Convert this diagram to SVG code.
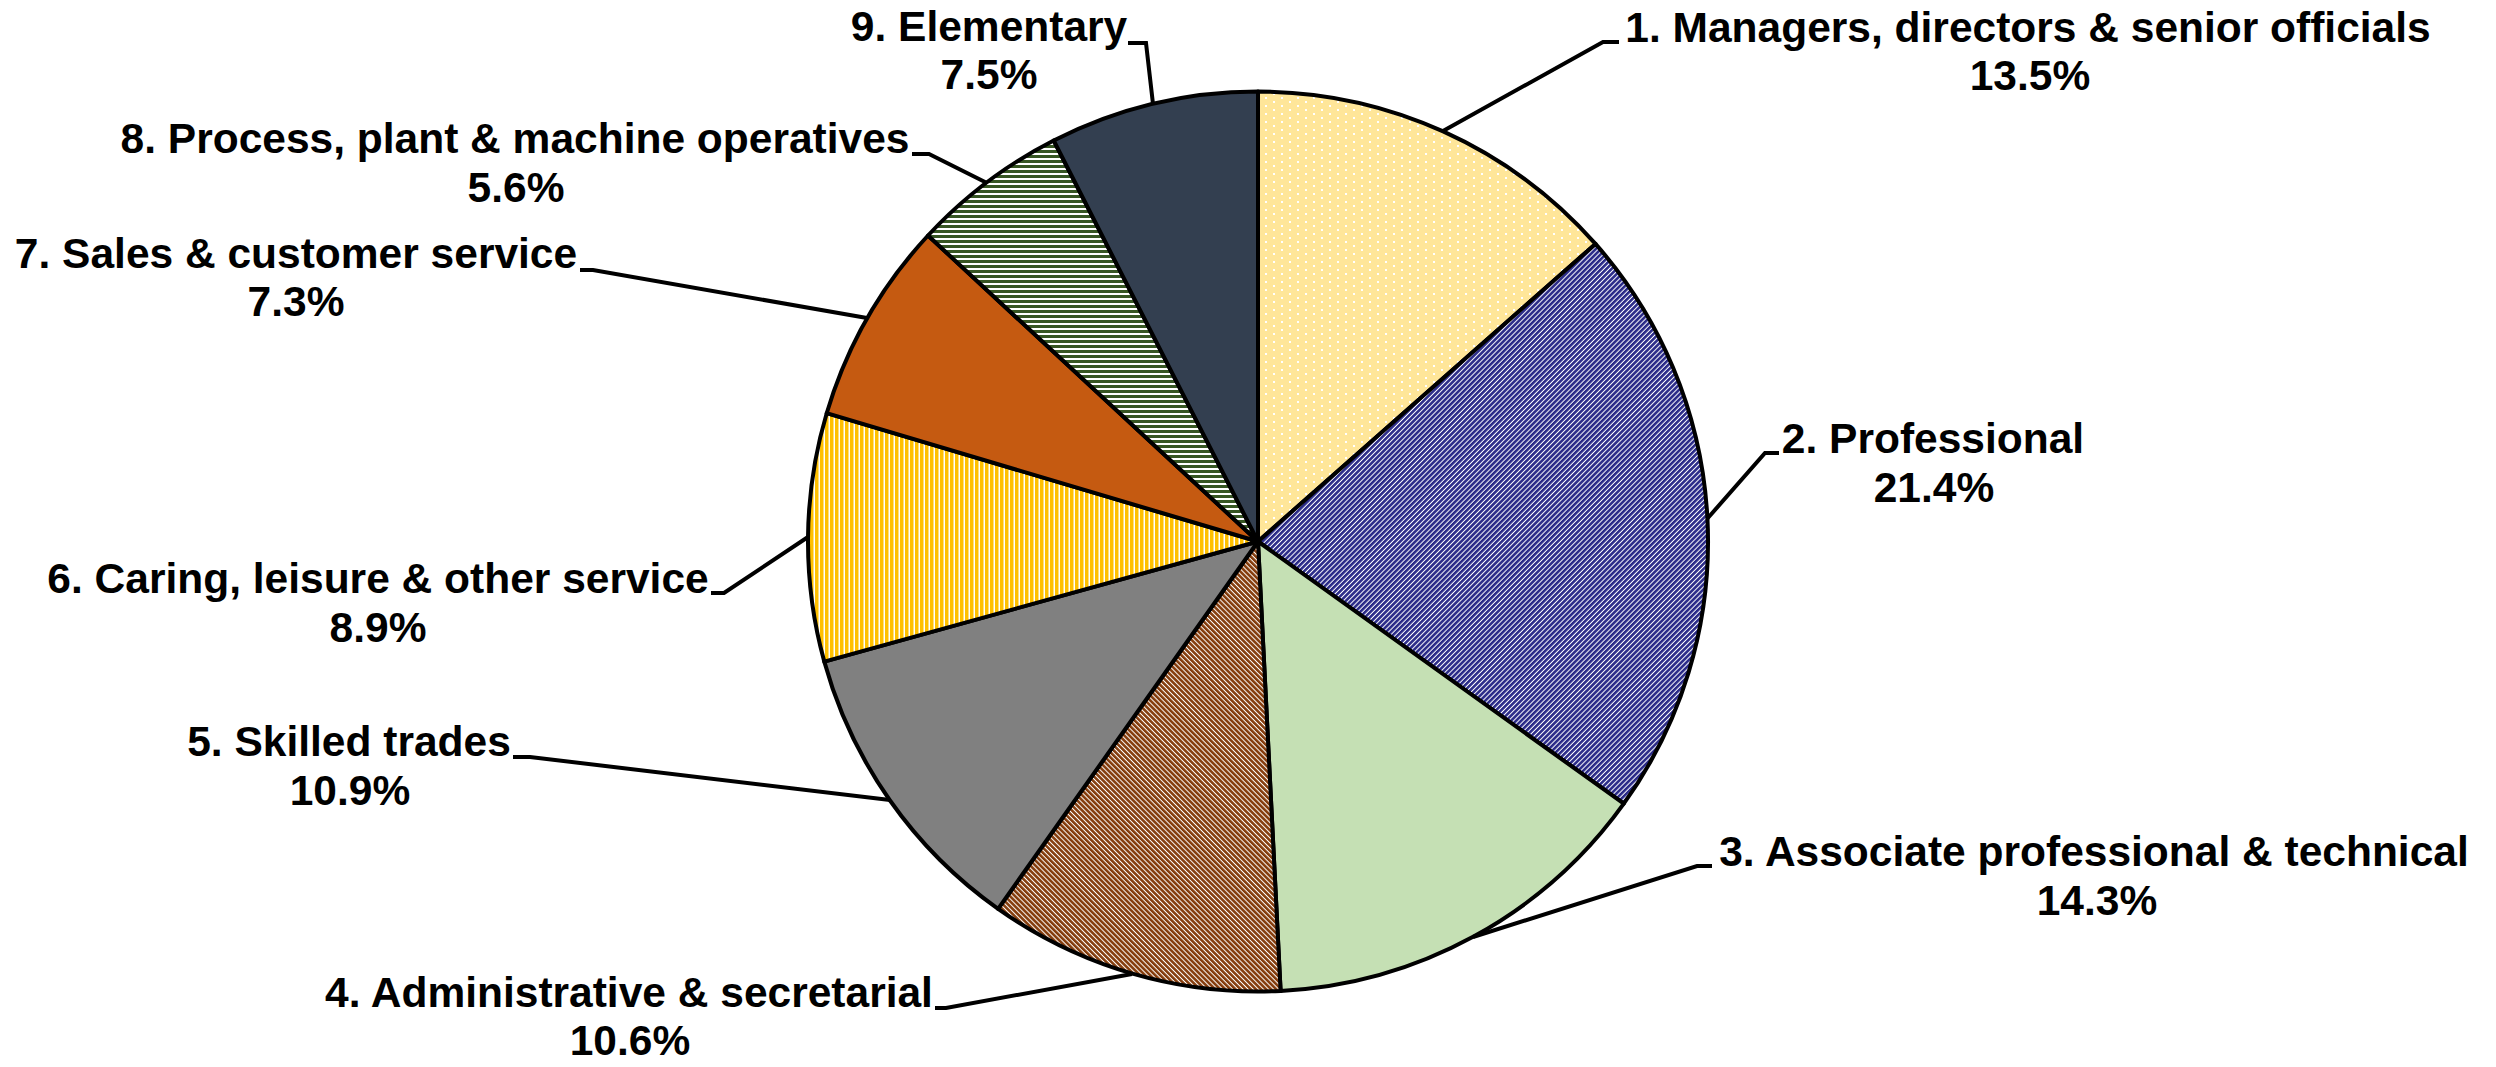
<svg xmlns="http://www.w3.org/2000/svg" width="2496" height="1067" viewBox="0 0 2496 1067">
<style>
.slice{stroke:#000;stroke-width:4;stroke-linejoin:round}
.lbl{font-family:"Liberation Sans",Arial,sans-serif;font-weight:bold;font-size:42.5px;fill:#000;text-anchor:middle}
.lead{fill:none;stroke:#000;stroke-width:4;stroke-linejoin:miter}
</style>
<defs>
<pattern id="pDots" width="16" height="8" patternUnits="userSpaceOnUse">
<rect width="16" height="8" fill="#FFE699"/>
<rect x="1" y="1" width="2" height="2" fill="#fff"/>
<rect x="9" y="5" width="2" height="2" fill="#fff"/>
</pattern>
<pattern id="pNavy" width="3.6" height="4" patternUnits="userSpaceOnUse" patternTransform="rotate(45)">
<rect width="3.6" height="4" fill="#fff"/>
<rect width="2.6" height="4" fill="#2A2A88"/>
</pattern>
<pattern id="pBrown" width="3.6" height="4" patternUnits="userSpaceOnUse" patternTransform="rotate(-45)">
<rect width="3.6" height="4" fill="#fff"/>
<rect width="2.6" height="4" fill="#843C0C"/>
</pattern>
<pattern id="pYellow" width="5" height="4" patternUnits="userSpaceOnUse">
<rect width="5" height="4" fill="#fff"/>
<rect width="3.5" height="4" fill="#FFC000"/>
</pattern>
<pattern id="pGreen" width="4" height="5" patternUnits="userSpaceOnUse">
<rect width="4" height="5" fill="#fff"/>
<rect width="4" height="3" fill="#375623"/>
</pattern>
</defs>
<rect width="2496" height="1067" fill="#fff"/>
<g id="pie">
<g id="slice1"><path class="slice" fill="url(#pDots)" d="M1258 541.5 L1258 91.5 A450 450 0 0 1 1595.5 243.9 Z"/></g>
<g id="slice2"><path class="slice" fill="url(#pNavy)" d="M1258 541.5 L1595.5 243.9 A450 450 0 0 1 1623.8 803.7 Z"/></g>
<g id="slice3"><path class="slice" fill="#C5E0B4" d="M1258 541.5 L1623.8 803.7 A450 450 0 0 1 1280.6 990.9 Z"/></g>
<g id="slice4"><path class="slice" fill="url(#pBrown)" d="M1258 541.5 L1280.6 990.9 A450 450 0 0 1 998.1 908.8 Z"/></g>
<g id="slice5"><path class="slice" fill="#808080" d="M1258 541.5 L998.1 908.8 A450 450 0 0 1 824.3 661.6 Z"/></g>
<g id="slice6"><path class="slice" fill="url(#pYellow)" d="M1258 541.5 L824.3 661.6 A450 450 0 0 1 826.7 413.2 Z"/></g>
<g id="slice7"><path class="slice" fill="#C55A11" d="M1258 541.5 L826.7 413.2 A450 450 0 0 1 928.0 235.5 Z"/></g>
<g id="slice8"><path class="slice" fill="url(#pGreen)" d="M1258 541.5 L928.0 235.5 A450 450 0 0 1 1053.7 140.5 Z"/></g>
<g id="slice9"><path class="slice" fill="#333F50" d="M1258 541.5 L1053.7 140.5 A450 450 0 0 1 1258 91.5 Z"/></g>
</g>
<g id="connectors">
<polyline class="lead" points="1443,131 1603,42 1619,42"/>
<polyline class="lead" points="1707,519 1765,453 1779,453"/>
<polyline class="lead" points="1473,937 1697,866 1712,866"/>
<polyline class="lead" points="1132,974 946,1008 935,1008"/>
<polyline class="lead" points="890,800 530,757 513,757"/>
<polyline class="lead" points="808,537 724,593 711,593"/>
<polyline class="lead" points="867,318 593,270 580,270"/>
<polyline class="lead" points="987,183 929,154 912,154"/>
<polyline class="lead" points="1153,104 1146,43 1128,43"/>
</g>
<g id="label1"><text class="lbl" x="2028" y="42">1. Managers, directors &amp; senior officials</text><text class="lbl" x="2030" y="90">13.5%</text></g>
<g id="label2"><text class="lbl" x="1933" y="453">2. Professional</text><text class="lbl" x="1934" y="502">21.4%</text></g>
<g id="label3"><text class="lbl" x="2094" y="866">3. Associate professional &amp; technical</text><text class="lbl" x="2097" y="915">14.3%</text></g>
<g id="label4"><text class="lbl" x="629" y="1007">4. Administrative &amp; secretarial</text><text class="lbl" x="630" y="1055">10.6%</text></g>
<g id="label5"><text class="lbl" x="349" y="756">5. Skilled trades</text><text class="lbl" x="350" y="805">10.9%</text></g>
<g id="label6"><text class="lbl" x="378" y="593">6. Caring, leisure &amp; other service</text><text class="lbl" x="378" y="642">8.9%</text></g>
<g id="label7"><text class="lbl" x="296" y="268">7. Sales &amp; customer service</text><text class="lbl" x="296" y="316">7.3%</text></g>
<g id="label8"><text class="lbl" x="515" y="153">8. Process, plant &amp; machine operatives</text><text class="lbl" x="516" y="202">5.6%</text></g>
<g id="label9"><text class="lbl" x="989" y="41">9. Elementary</text><text class="lbl" x="989" y="89">7.5%</text></g>
</svg>
